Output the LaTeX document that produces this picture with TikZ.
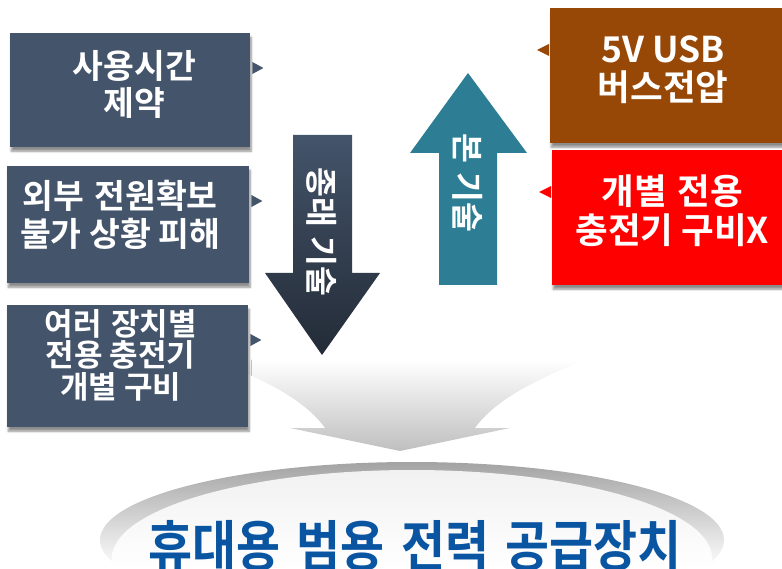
\documentclass[tikz,border=0pt]{standalone}
\usepackage{fontspec}
\setmainfont{Noto Sans CJK KR}[BoldFont={Noto Sans CJK KR Bold}]
\newfontfamily\titlefont{Noto Sans CJK KR Bold}[FakeStretch=0.87]
\usepackage{tikz}
\usepackage{tkz-euclide}
\usetikzlibrary{calc,shadows.blur}
\definecolor{slate}{HTML}{44546A}
\definecolor{slatedark}{HTML}{232B37}
\definecolor{rust}{HTML}{974706}
\definecolor{tealdark}{HTML}{2D7E94}
\definecolor{teallight}{HTML}{3DA1BC}
\definecolor{titleblue}{HTML}{0A55A2}
\newcommand{\wordgap}[1]{\spaceskip=#1\relax}
\tikzset{
	card/.style={anchor=north west, inner sep=0pt, minimum width=#1,
		blur shadow={shadow xshift=1pt, shadow yshift=-4pt, shadow blur steps=6, shadow opacity=45}},
	cardtext/.style={text=white, align=center, font=\bfseries\fontsize{33.5}{37.5}\selectfont},
	arrowtext/.style={text=white, rotate=-90, font=\bfseries\fontsize{32.5}{34}\selectfont},
	titlestyle/.style={text=titleblue, inner sep=1pt, font=\titlefont\fontsize{55}{56}\selectfont},
}
\begin{document}
\begin{tikzpicture}[x=1pt,y=-1pt]
	\useasboundingbox (0,0) rectangle (782,569);
	
	\begin{scope}
		\clip (412,540) ellipse [x radius=312, y radius=78];
		\shade[top color=gray!72, middle color=gray!55, bottom color=white] (90,462) rectangle (730,569);
		\clip (412,558) ellipse [x radius=300, y radius=88];
		\shade[top color=gray!11, bottom color=white] (100,470) rectangle (720,569);
	\end{scope}
	
	\tkzDefPoint(215,360){G1};
	\tkzDefPoint(325,428){G2};
	\tkzDefPoint(290,428){G3};
	\tkzDefPoint(400,451){G4};
	\tkzDefPoint(510,428){G5};
	\tkzDefPoint(475,428){G6};
	\tkzDefPoint(585,360){G7};
	\shade[top color=white, bottom color=gray!50] (G1) .. controls (265,380) and (305,400) .. (G2) -- (G3) -- (G4)
		-- (G5) -- (G6) .. controls (495,400) and (535,380) .. (G7) -- cycle;
	
	\node[card=240, minimum height=114, fill=slate,
		label={[cardtext, xshift=4pt, yshift=6pt]center:\wordgap{0.3em}사용시간\\제약}] (limit) at (10,33) {};
	\node[card=242, minimum height=117, fill=slate,
		label={[cardtext, xshift=-8pt, yshift=10pt]center:\wordgap{0.3em}외부 전원확보\\불가 상황 피해}] (outage) at (7,166) {};
	\node[card=241, minimum height=122, fill=slate,
		label={[cardtext, font=\bfseries\fontsize{31}{31.5}\selectfont, xshift=-7pt, yshift=11pt]center:\wordgap{0.3em}여러 장치별\\전용 충전기\\개별 구비}] (chargers) at (7,305) {};
	\foreach \n in {limit,outage,chargers}
		\fill[slate] ($(\n.north east)+(2,29)$) -- ++(11,6) -- ++(-11,6) -- cycle;
	
	\node[card=240, minimum height=135, fill=rust,
		label={[cardtext, font=\bfseries\fontsize{35.5}{38}\selectfont, xshift=-7pt, yshift=6pt]center:5V USB\\버스전압}] (bus) at (550,8) {};
	\node[card=240, minimum height=135, fill=red,
		label={[cardtext, font=\bfseries\fontsize{35.5}{39}\selectfont, yshift=7pt]center:\wordgap{0.3em}개별 전용\\충전기 구비X}] (nocharger) at (552,150) {};
	\fill[rust] ($(bus.north west)+(-1,36)$) -- ++(-12,6) -- ++(12,6) -- cycle;
	\fill[red] ($(nocharger.north west)+(-1,36)$) -- ++(-12,6) -- ++(12,6) -- cycle;
	
	\tkzDefPoint(293,135){D1};
	\tkzDefPoint(352,135){D2};
	\tkzDefPoint(352,273){D3};
	\tkzDefPoint(380,273){D4};
	\tkzDefPoint(322,355){D5};
	\tkzDefPoint(265,273){D6};
	\tkzDefPoint(293,273){D7};
	\shade[top color=slate, bottom color=slatedark] (D1) -- (D2) -- (D3) -- (D4) -- (D5) -- (D6) -- (D7) -- cycle;
	\node[arrowtext] (oldtech) at (322,232) {\wordgap{0.3em}종래 기술};
	
	\tkzDefPoint(439,285){U1};
	\tkzDefPoint(497,285){U2};
	\tkzDefPoint(497,153){U3};
	\tkzDefPoint(527,153){U4};
	\tkzDefPoint(468,73){U5};
	\tkzDefPoint(410,153){U6};
	\tkzDefPoint(439,153){U7};
	\shade[top color=tealdark, middle color=teallight, bottom color=tealdark] (U1) -- (U2) -- (U3) -- (U4) -- (U5) -- (U6) -- (U7) -- cycle;
	\node[arrowtext] (newtech) at (468,183) {\wordgap{0.3em}본 기술};
	
	\node[titlestyle] (device) at (415,546) {\wordgap{0.3em}휴대용 범용 전력 공급장치};
\end{tikzpicture}
\end{document}
